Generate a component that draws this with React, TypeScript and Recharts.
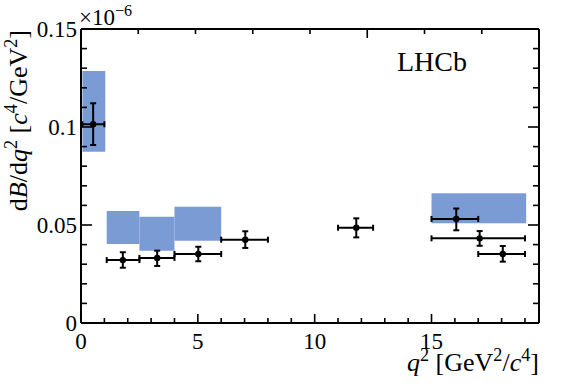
import React from "react";
import {
  ComposedChart,
  Scatter,
  ErrorBar,
  XAxis,
  YAxis,
  ReferenceArea,
} from "recharts";

// measured points (bin edges in q2, rate in units of 1e-6)
const qCentre = [0.52, 1.79, 3.26, 5.02, 7.03, 11.78, 16.06, 17.06, 18.05];
const qLow = [0.06, 1.1, 2.5, 4.0, 6.0, 11.0, 15.0, 15.0, 17.0];
const qHigh = [1.0, 2.5, 4.0, 6.0, 8.0, 12.5, 17.0, 19.0, 19.0];
const rate = [0.1014, 0.0321, 0.0332, 0.0352, 0.0425, 0.0486, 0.0531, 0.0432, 0.0352];
const rateUp = [0.0107, 0.004, 0.0037, 0.0037, 0.0043, 0.0048, 0.0053, 0.0037, 0.0041];
const rateDown = [0.0106, 0.0039, 0.0041, 0.0037, 0.0042, 0.0049, 0.0058, 0.0038, 0.0039];

// prediction boxes
const boxLow = [0.06, 1.1, 2.5, 4.0, 15.0];
const boxHigh = [1.04, 2.5, 4.0, 6.0, 19.05];
const boxBottom = [0.0874, 0.0403, 0.0369, 0.042, 0.0509];
const boxTop = [0.1286, 0.0571, 0.0542, 0.0593, 0.0662];

// ticks
const xTicks = [0, 1, 2, 3, 4, 5, 6, 7, 8, 9, 10, 11, 12, 13, 14, 15, 16, 17, 18, 19];
const xMajor = [0, 5, 10, 15];
const xMajorLabels = ["0", "5", "10", "15"];
const yTicks = [0, 0.01, 0.02, 0.03, 0.04, 0.05, 0.06, 0.07, 0.08, 0.09, 0.1, 0.11, 0.12, 0.13, 0.14, 0.15];
const yMajor = [0, 0.05, 0.1, 0.15];
const yMajorLabels = ["0", "0.05", "0.1", "0.15"];

const SERIF = "'Liberation Serif', 'Times New Roman', serif";
const BLUE = "#7b9bd4";

const points = qCentre.map((q, i) => ({
  q,
  rate: rate[i],
  qErr: [q - qLow[i], qHigh[i] - q],
  rateErr: [rateDown[i], rateUp[i]],
}));

const boxes = boxLow.map((lo, i) => ({ x1: lo, x2: boxHigh[i], y1: boxBottom[i], y2: boxTop[i] }));

const majorIndex = (list: number[], v: number) =>
  list.findIndex((m) => Math.abs(m - v) < 1e-9);

const BottomTick = (props: any) => {
  const { x, y, payload } = props;
  const i = majorIndex(xMajor, payload.value);
  return (
    <g>
      <line x1={x} x2={x} y1={y} y2={y - (i >= 0 ? 9 : 5)} stroke="#000" strokeWidth={1.6} />
      {i >= 0 && (
        <text x={x} y={y + 26} textAnchor="middle" fontSize={23} fontFamily={SERIF} fill="#000">
          {xMajorLabels[i]}
        </text>
      )}
    </g>
  );
};

const TopTick = (props: any) => {
  const { x, y, payload } = props;
  const i = majorIndex(xMajor, payload.value);
  return <line x1={x} x2={x} y1={y} y2={y + (i >= 0 ? 9 : 5)} stroke="#000" strokeWidth={1.6} />;
};

const LeftTick = (props: any) => {
  const { x, y, payload } = props;
  const i = majorIndex(yMajor, payload.value);
  return (
    <g>
      <line x1={x} x2={x + (i >= 0 ? 11 : 6)} y1={y} y2={y} stroke="#000" strokeWidth={1.6} />
      {i >= 0 && (
        <text x={x - 4} y={y} dy="0.34em" textAnchor="end" fontSize={23} fontFamily={SERIF} fill="#000">
          {yMajorLabels[i]}
        </text>
      )}
    </g>
  );
};

const RightTick = (props: any) => {
  const { x, y, payload } = props;
  const i = majorIndex(yMajor, payload.value);
  return <line x1={x} x2={x - (i >= 0 ? 11 : 6)} y1={y} y2={y} stroke="#000" strokeWidth={1.6} />;
};

const Dot = (props: any) => <circle cx={props.cx} cy={props.cy} r={3.2} fill="#000" />;

const Sup = ({ children }: { children: React.ReactNode }) => (
  <tspan fontSize="70%" dy="-0.55em">{children}</tspan>
);

export default function App() {
  return (
    <div style={{ position: "absolute", left: 0, top: 0, width: 567, height: 386, background: "#fff" }}>
      <ComposedChart
        width={567}
        height={386}
        data={points}
        margin={{ top: 25, right: 24, bottom: 23, left: 21 }}
      >
        <XAxis
          xAxisId="bottom"
          type="number"
          dataKey="q"
          domain={[0, 19.6]}
          ticks={xTicks}
          interval={0}
          height={40}
          tickSize={0}
          tickMargin={0}
          tickLine={false}
          tick={<BottomTick />}
          axisLine={{ stroke: "#000", strokeWidth: 2 }}
          allowDataOverflow
        />
        <XAxis
          xAxisId="top"
          orientation="top"
          type="number"
          domain={[0, 19.6]}
          ticks={xTicks}
          interval={0}
          height={4}
          tickSize={0}
          tickMargin={0}
          tickLine={false}
          tick={<TopTick />}
          axisLine={{ stroke: "#000", strokeWidth: 2 }}
          allowDataOverflow
        />
        <YAxis
          yAxisId="left"
          type="number"
          domain={[0, 0.15]}
          ticks={yTicks}
          interval={0}
          width={60}
          tickSize={0}
          tickMargin={0}
          tickLine={false}
          tick={<LeftTick />}
          axisLine={{ stroke: "#000", strokeWidth: 2 }}
          allowDataOverflow
        />
        <YAxis
          yAxisId="right"
          orientation="right"
          type="number"
          domain={[0, 0.15]}
          ticks={yTicks}
          interval={0}
          width={4}
          tickSize={0}
          tickMargin={0}
          tickLine={false}
          tick={<RightTick />}
          axisLine={{ stroke: "#000", strokeWidth: 2 }}
          allowDataOverflow
        />
        {boxes.map((b, i) => (
          <ReferenceArea
            key={i}
            xAxisId="bottom"
            yAxisId="left"
            x1={b.x1}
            x2={b.x2}
            y1={b.y1}
            y2={b.y2}
            fill={BLUE}
            fillOpacity={1}
            stroke="none"
          />
        ))}
        <Scatter
          xAxisId="bottom"
          yAxisId="left"
          dataKey="rate"
          data={points}
          shape={<Dot />}
          isAnimationActive={false}
        >
          <ErrorBar dataKey="qErr" direction="x" width={3} stroke="#000" strokeWidth={2} />
          <ErrorBar dataKey="rateErr" direction="y" width={3} stroke="#000" strokeWidth={2} />
        </Scatter>
      </ComposedChart>
      <svg
        width={567}
        height={386}
        style={{ position: "absolute", left: 0, top: 0, pointerEvents: "none" }}
        fontFamily={SERIF}
        fill="#000"
      >
        <text x={79} y={25} fontSize={23}>
          ×10<Sup>−6</Sup>
        </text>
        <text x={397} y={71} fontSize={28}>LHCb</text>
        <text x={539} y={371} fontSize={26} textAnchor="end">
          <tspan fontStyle="italic">q</tspan>
          <Sup>2</Sup>
          <tspan dy="0.385em"> [GeV</tspan>
          <Sup>2</Sup>
          <tspan dy="0.385em">/</tspan>
          <tspan fontStyle="italic">c</tspan>
          <Sup>4</Sup>
          <tspan dy="0.385em">]</tspan>
        </text>
        <text transform="translate(27,30) rotate(-90)" fontSize={26} textAnchor="end">
          d<tspan fontStyle="italic">B</tspan>/d<tspan fontStyle="italic">q</tspan>
          <Sup>2</Sup>
          <tspan dy="0.385em"> [</tspan>
          <tspan fontStyle="italic">c</tspan>
          <Sup>4</Sup>
          <tspan dy="0.385em">/GeV</tspan>
          <Sup>2</Sup>
          <tspan dy="0.385em">]</tspan>
        </text>
      </svg>
    </div>
  );
}
